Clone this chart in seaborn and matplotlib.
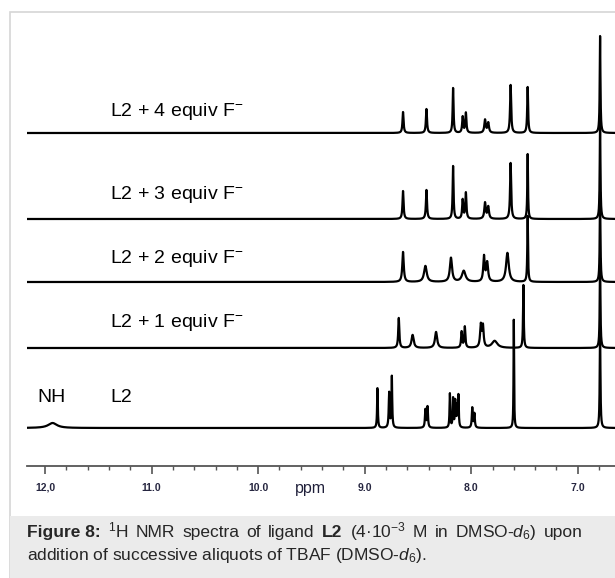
import numpy as np
import pandas as pd
import matplotlib
matplotlib.use("Agg")
import matplotlib.pyplot as plt
from matplotlib.patches import Rectangle
from matplotlib.ticker import FixedLocator, MultipleLocator
import seaborn as sns

# ---------------- datos ----------------
labels = ["L2 + 4 equiv F$^{-}$", "L2 + 3 equiv F$^{-}$", "L2 + 2 equiv F$^{-}$",
          "L2 + 1 equiv F$^{-}$", "L2"]
offsets = [333, 247, 184, 118, 38]   # posicion vertical de cada espectro

# picos: desplazamiento (ppm), altura, semi-ancho (ppm)
p4_ppm = [8.64, 8.42, 8.17, 8.08, 8.05, 7.87, 7.84, 7.63, 7.47, 6.79]
p4_h   = [21, 24, 45, 16, 20, 13, 10, 48, 46, 97]
p4_w   = [0.006, 0.006, 0.005, 0.006, 0.006, 0.008, 0.008, 0.006, 0.005, 0.004]

p3_ppm = [8.64, 8.42, 8.17, 8.08, 8.05, 7.87, 7.84, 7.63, 7.47, 6.79]
p3_h   = [28, 29, 53, 19, 26, 16, 12, 56, 65, 100]
p3_w   = [0.006, 0.006, 0.005, 0.006, 0.006, 0.008, 0.008, 0.006, 0.004, 0.004]

p2_ppm = [8.64, 8.43, 8.19, 8.07, 7.88, 7.85, 7.66, 7.47, 6.79]
p2_h   = [30, 16, 24, 11, 25, 19, 29, 66, 90]
p2_w   = [0.008, 0.015, 0.012, 0.02, 0.008, 0.01, 0.015, 0.004, 0.004]

p1_ppm = [8.68, 8.55, 8.33, 8.09, 8.06, 7.91, 7.89, 7.78, 7.51, 6.79]
p1_h   = [30, 13, 16, 16, 21, 22, 21, 7, 63, 90]
p1_w   = [0.006, 0.012, 0.012, 0.006, 0.006, 0.008, 0.008, 0.03, 0.004, 0.004]

p0_ppm = [11.93, 8.88, 8.77, 8.745, 8.43, 8.41, 8.20, 8.17, 8.15, 8.135, 8.12, 7.99, 7.97, 7.60, 6.79]
p0_h   = [5, 40, 35, 51, 18, 21, 34, 29, 26, 20, 32, 20, 14, 109, 100]
p0_w   = [0.05, 0.004, 0.005, 0.004, 0.005, 0.005, 0.004, 0.004, 0.004, 0.004, 0.004, 0.005, 0.005, 0.003, 0.004]

peaks = [(p4_ppm, p4_h, p4_w), (p3_ppm, p3_h, p3_w), (p2_ppm, p2_h, p2_w),
         (p1_ppm, p1_h, p1_w), (p0_ppm, p0_h, p0_w)]

tick_pos = [12.0, 11.0, 10.0, 9.0, 8.0, 7.0]
tick_txt = ["12,0", "11.0", "10.0", "9.0", "8.0", "7.0"]

# pie de figura: (texto, negrita)
cap1 = [("Figure 8:", True), ("$^{1}$H", False), ("NMR", False), ("spectra", False),
        ("of", False), ("ligand", False), ("L2", True), ("(4·10$^{-3}$", False),
        ("M", False), ("in", False), ("DMSO-$d_{6}$)", False), ("upon", False)]
cap2 = "addition of successive aliquots of TBAF (DMSO-$d_{6}$)."

# ---------------- estilo ----------------
sns.set_style("white")
plt.rcParams["font.family"] = ["Liberation Sans", "DejaVu Sans"]
plt.rcParams["mathtext.fontset"] = "custom"
plt.rcParams["mathtext.rm"] = "Liberation Sans"
plt.rcParams["mathtext.it"] = "Liberation Sans:italic"
plt.rcParams["mathtext.bf"] = "Liberation Sans:bold"

W, H = 615, 578
fig = plt.figure(figsize=(W / 100, H / 100), dpi=100)

def px(x, y):
    return x / W, 1 - y / H

# marco y caja del pie
fig.patches.append(Rectangle(px(10, 578), 1.2, (578 - 12) / H, transform=fig.transFigure,
                             facecolor="white", edgecolor="#d6d6d6", lw=1.2, zorder=-5))
fig.patches.append(Rectangle(px(10, 578), 1.2, (578 - 516) / H, transform=fig.transFigure,
                             facecolor="#ebebeb", edgecolor="none", zorder=-4))

# eje del espectro: 1 unidad vertical = 1 pixel
left, right, bottom, top = 27, 615, 466, 14
ax = fig.add_axes([left / W, 1 - bottom / H, (right - left) / W, (bottom - top) / H])
ax.set_facecolor("none")
ax.set_zorder(2)

x = np.linspace(12.17, 6.65, 8000)
rows = []
for (pp, hh, ww), off, lab in zip(peaks, offsets, labels):
    y = np.full_like(x, off, dtype=float)
    for c, h, w in zip(pp, hh, ww):
        y += h * w**2 / ((x - c) ** 2 + w**2)
    rows.append(pd.DataFrame({"ppm": x, "int": y, "spec": lab}))
df = pd.concat(rows)

for lab in labels:
    sub = df[df["spec"] == lab]
    sns.lineplot(data=sub, x="ppm", y="int", color="black", lw=1.6,
                 estimator=None, sort=False, ax=ax)

ax.set_xlim(12.17, 6.65)
ax.set_ylim(0, bottom - top)
for s in ["left", "right", "top"]:
    ax.spines[s].set_visible(False)
ax.spines["bottom"].set_color("#555555")
ax.spines["bottom"].set_linewidth(1.3)
ax.set_yticks([])
ax.xaxis.set_major_locator(FixedLocator(tick_pos))
ax.xaxis.set_minor_locator(MultipleLocator(0.2))
ax.set_xticklabels(tick_txt, fontsize=7.5, fontweight="bold", color="#262640")
ax.tick_params(axis="x", which="major", direction="out", length=6, width=1.2,
               color="#555555", pad=6, bottom=True)
ax.tick_params(axis="x", which="minor", direction="out", length=3, width=1.0,
               color="#555555", bottom=True)
ax.set_xlabel("")
ax.set_ylabel("")

# etiquetas de cada espectro (linea base del texto)
lab_y = [116, 199, 263, 327, 402]
for lab, ly in zip(labels, lab_y):
    fig.text(*px(110, ly), lab, fontsize=14, va="baseline", ha="left", color="black")
fig.text(*px(37, 402), "NH", fontsize=14, va="baseline", ha="left", color="black")
fig.text(*px(310, 489), "ppm", fontsize=11.5, va="center", ha="center", color="#1f1f3a")

# pie de figura, primera linea justificada
r = fig.canvas.get_renderer()
x0, x1 = 27, 583
pieces = []
for txt, bold in cap1:
    t = fig.text(0, 0, txt, fontsize=12.5, fontweight="bold" if bold else "normal",
                 va="baseline", ha="left")
    pieces.append((t, t.get_window_extent(r).width))
gap = (x1 - x0 - sum(wd for _, wd in pieces)) / (len(pieces) - 1)
xc = x0
for t, wd in pieces:
    t.set_position(px(xc, 537))
    xc += wd + gap
fig.text(*px(x0, 560), cap2, fontsize=12.5, va="baseline", ha="left")

fig.savefig("out.png", dpi=100)
